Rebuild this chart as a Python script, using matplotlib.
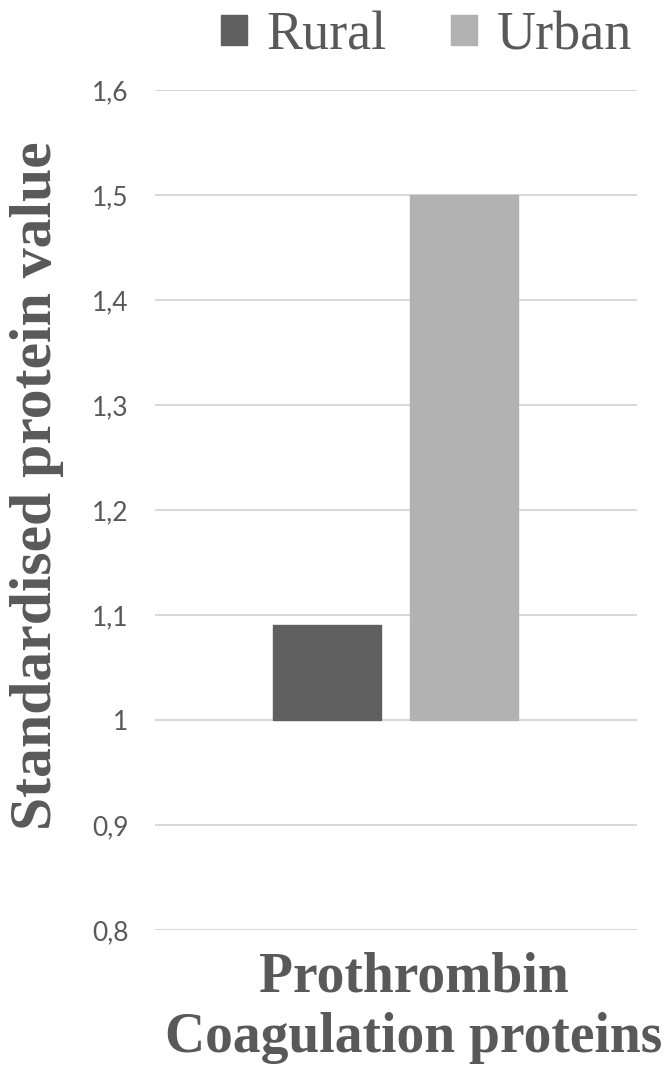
import matplotlib.pyplot as plt
from matplotlib.patches import Patch

groups = ['Rural', 'Urban']
values = [1.09, 1.5]
colors = ['#5f5f5f', '#b2b2b2']
yticks = [0.8, 0.9, 1.0, 1.1, 1.2, 1.3, 1.4, 1.5, 1.6]
ytick_labels = ['0,8', '0,9', '1', '1,1', '1,2', '1,3', '1,4', '1,5', '1,6']
baseline = 1.0
text_col = '#595959'

fig = plt.figure(figsize=(6.7, 10.67), dpi=100)
ax = fig.add_axes([0.231, 0.1284, 0.72, 0.7873])

offsets = [-0.143, 0.142]
for off, v, c in zip(offsets, values, colors):
    ax.bar(off, v - baseline, bottom=baseline, width=0.224, color=c,
           edgecolor=c, zorder=3)

ax.set_xlim(-0.5, 0.5)
ax.set_ylim(0.8, 1.6)
ax.set_yticks(yticks)
ax.set_yticklabels(ytick_labels, family='Lato', fontsize=19, color=text_col)
ax.set_xticks([])
ax.tick_params(axis='y', length=0, pad=19)
ax.grid(axis='y', color='#d9d9d9', linewidth=1.5, zorder=0)
for s in ax.spines.values():
    s.set_visible(False)

# axis titles
fig.text(0.055, 0.545, 'Standardised protein value', rotation=90,
         ha='center', va='center', family='Liberation Serif',
         fontweight='bold', fontsize=43, color=text_col)
fig.text(0.618, 0.084, 'Prothrombin', ha='center', va='center',
         family='Liberation Serif', fontweight='bold', fontsize=40,
         color=text_col)
fig.text(0.618, 0.027, 'Coagulation proteins', ha='center', va='center',
         family='Liberation Serif', fontweight='bold', fontsize=40,
         color=text_col)

handles = [Patch(facecolor=c, edgecolor=c, label=g) for g, c in zip(groups, colors)]
leg = fig.legend(handles=handles, loc='upper right', bbox_to_anchor=(0.943, 0.99),
                 ncol=2, frameon=False, handlelength=0.48, handleheight=0.48,
                 handletextpad=0.35, columnspacing=1.2, borderpad=0,
                 borderaxespad=0,
                 prop={'family': 'Liberation Serif', 'size': 39})
for t in leg.get_texts():
    t.set_color(text_col)

fig.savefig('out.png', dpi=100)
